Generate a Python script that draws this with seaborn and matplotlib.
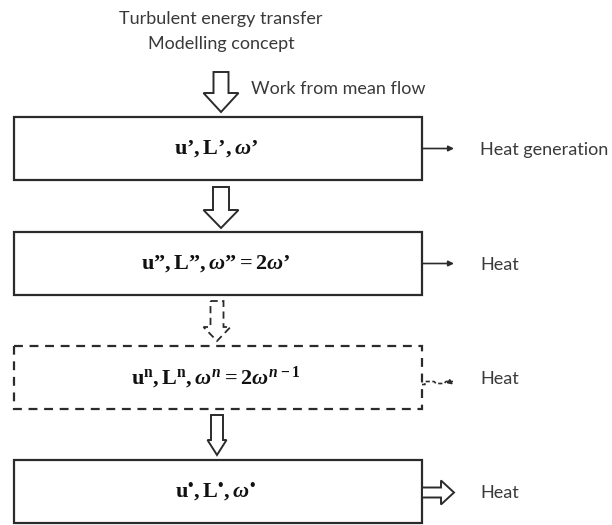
import matplotlib
matplotlib.use("Agg")
import numpy as np
import pandas as pd
import seaborn as sns
import matplotlib.pyplot as plt
from matplotlib.patches import Rectangle, Polygon

# ---- content ----
title_lines = ["Turbulent energy transfer", "Modelling concept"]
input_label = "Work from mean flow"
stage_labels = [
    r"$\mathrm{u’},\mathrm{L’},\omega\mathrm{’}$",
    r"$\mathrm{u”},\mathrm{L”},\omega\mathrm{”}=2\omega\mathrm{’}$",
    r"$\mathrm{u}^{\mathrm{n}},\mathrm{L}^{\mathrm{n}},\omega^{n}=2\omega^{n-1}$",
    r"$\mathrm{u}^{\mathrm{•}},\mathrm{L}^{\mathrm{•}},\omega^{\mathrm{•}}$",
]
side_labels = ["Heat generation", "Heat", "Heat", "Heat"]
stage_dashed = [False, False, True, False]
side_kind = ["thin", "thin", "wavy", "hollow"]

df = pd.DataFrame({"label": stage_labels, "side": side_labels,
                   "dashed": stage_dashed, "kind": side_kind})

# ---- style ----
sns.set_theme(style="white")
plt.rcParams["font.family"] = ["Lato", "DejaVu Sans"]
plt.rcParams["mathtext.fontset"] = "custom"
plt.rcParams["mathtext.rm"] = "Liberation Serif:bold"
plt.rcParams["mathtext.bf"] = "Liberation Serif:bold"
plt.rcParams["mathtext.it"] = "Liberation Serif:bold:italic"

W, H = 612, 525
fig = plt.figure(figsize=(W / 100, H / 100), dpi=100)
ax = fig.add_axes([0, 0, 1, 1])
ax.set_xlim(0, W)
ax.set_ylim(H, 0)
ax.axis("off")
sns.despine(ax=ax, left=True, bottom=True)

LC = "#2b2b2b"
TC = "#3a3a3a"
box_x0, box_x1 = 14, 422
box_tops = [117, 232, 346, 460]
box_h = 63
cx = 221
FS = 13


def hollow_down(top, head_start, tip, sh, hh, ls="-", lw=1.4, xc=cx):
    pts = [(xc - sh, top), (xc + sh, top), (xc + sh, head_start),
           (xc + hh, head_start), (xc, tip), (xc - hh, head_start),
           (xc - sh, head_start)]
    ax.add_patch(Polygon(pts, closed=True, facecolor="white",
                         edgecolor=LC, lw=lw, ls=ls, joinstyle="miter"))


# title
ax.text(cx, 19, title_lines[0], ha="center", va="center", fontsize=FS, color=TC)
ax.text(cx, 44, title_lines[1], ha="center", va="center", fontsize=FS, color=TC)

# input arrow
hollow_down(72, 93, 112, 7.5, 17.5)
ax.text(251, 89, input_label, ha="left", va="center", fontsize=FS, color=TC)

# arrows between boxes
hollow_down(187, 210, 228, 8, 17.5)
hollow_down(301, 327, 341, 6.5, 13.5, ls=(0, (4, 2.5)), lw=1.3, xc=217)
hollow_down(415, 440, 455, 6, 9.5, xc=217)

for i, row in df.iterrows():
    top = box_tops[i]
    ymid = top + box_h / 2
    ls = (0, (4, 3)) if row["dashed"] else "-"
    ax.add_patch(Rectangle((box_x0, top), box_x1 - box_x0, box_h,
                           facecolor="white", edgecolor=LC, lw=1.6, ls=ls))
    ax.text(216, ymid, row["label"], ha="center", va="center",
            fontsize=16, color="#111111")
    ax.text(480, ymid + 1, row["side"], ha="left", va="center",
            fontsize=FS, color=TC)
    if row["kind"] == "thin":
        ax.annotate("", xy=(454, ymid), xytext=(box_x1, ymid),
                    arrowprops=dict(arrowstyle="-|>", color=LC, lw=1.2,
                                    mutation_scale=8, shrinkA=0, shrinkB=0))
    elif row["kind"] == "wavy":
        yy = ymid + 4
        xs = [box_x1, box_x1 + 3, box_x1 + 3, box_x1 + 12, box_x1 + 14,
              box_x1 + 22, box_x1 + 24, box_x1 + 31]
        ys = [yy + 3, yy + 3, yy, yy, yy + 2, yy + 2, yy, yy]
        ax.plot(xs, ys, color=LC, lw=1.2, ls=(0, (2.5, 1.5)))
        ax.annotate("", xy=(453, yy + 3), xytext=(449, yy),
                    arrowprops=dict(arrowstyle="-|>", color=LC, lw=1.0,
                                    mutation_scale=7, shrinkA=0, shrinkB=0))
    else:
        y0 = ymid + 1
        pts = [(box_x1, y0 - 5), (441, y0 - 5), (441, y0 - 12),
               (454, y0), (441, y0 + 12), (441, y0 + 5), (box_x1, y0 + 5)]
        ax.add_patch(Polygon(pts, closed=True, facecolor="white",
                             edgecolor=LC, lw=1.4, joinstyle="miter"))

fig.savefig("out.png", dpi=100, facecolor="white")
